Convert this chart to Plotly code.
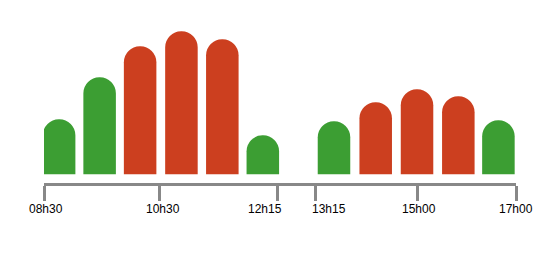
import plotly.graph_objects as go

# slot positions of bars (axis units, one unit = one slot)
slot_pos = [0.37, 1.36, 2.35, 3.36, 4.36, 5.35, 7.09, 8.11, 9.12, 10.13, 11.11]
values = [55, 97, 128, 143, 135, 39, 53, 72, 85, 78, 54]
status = ["ok", "ok", "busy", "busy", "busy", "ok", "ok", "busy", "busy", "busy", "ok"]

tick_pos = [0, 2.83, 5.70, 6.64, 9.13, 11.54]
tick_labels = ["08h30", "10h30", "12h15", "13h15", "15h00", "17h00"]
label_shift = [2, 3, -12, 13, 2, 0]

color_map = {"ok": "#3c9e33", "busy": "#cc3f1f"}
colors = [color_map[s] for s in status]

fig = go.Figure()
fig.add_trace(go.Bar(
    x=slot_pos, y=values, width=0.795,
    marker=dict(color=colors, cornerradius="50%", line=dict(width=0)),
    hoverinfo="skip",
))

for pos, lab, sh in zip(tick_pos, tick_labels, label_shift):
    fig.add_annotation(
        x=pos, xref="x", y=0, yref="paper", yanchor="top", xanchor="center",
        text=lab, showarrow=False, xshift=sh, yshift=-17,
        font=dict(size=12, color="black", family="Liberation Sans, Arial, sans-serif"),
    )

fig.update_layout(
    width=554, height=263,
    margin=dict(l=44, r=38, t=20, b=80),
    paper_bgcolor="white", plot_bgcolor="white",
    showlegend=False,
    font=dict(family="Liberation Sans, Arial, sans-serif", size=12, color="black"),
    xaxis=dict(
        range=[0, 11.54], showgrid=False, zeroline=False,
        showline=True, linecolor="#888888", linewidth=3,
        tickmode="array", tickvals=tick_pos, ticktext=[""] * len(tick_pos),
        ticks="outside", ticklen=15, tickwidth=3, tickcolor="#888888",
    ),
    yaxis=dict(range=[-8.7, 154.3], visible=False, showgrid=False, zeroline=False),
)

fig.write_html("out.html")
